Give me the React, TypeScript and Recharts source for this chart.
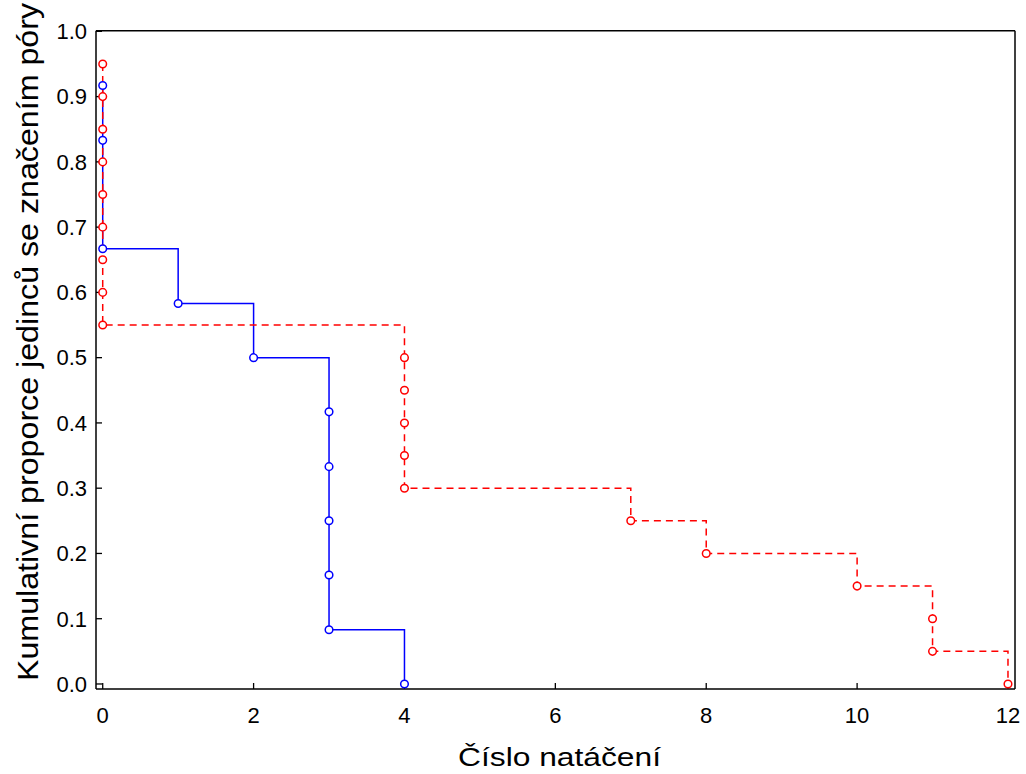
import React from 'react';
import { LineChart, Line, XAxis, YAxis } from 'recharts';

// Blue group (solid): event times and cumulative proportions
const blueTimes = [0, 0, 0, 1, 2, 3, 3, 3, 3, 3, 4];
const blueValues = [0.917, 0.833, 0.667, 0.583, 0.5, 0.417, 0.333, 0.25, 0.167, 0.083, 0.0];

// Red group (dashed)
const redTimes = [0, 0, 0, 0, 0, 0, 0, 0, 0, 4, 4, 4, 4, 4, 7, 8, 10, 11, 11, 12];
const redValues = [0.95, 0.9, 0.85, 0.8, 0.75, 0.7, 0.65, 0.6, 0.55, 0.5, 0.45, 0.4, 0.35, 0.3, 0.25, 0.2, 0.15, 0.1, 0.05, 0.0];

const xTicks = [0, 2, 4, 6, 8, 10, 12];
const yTicks = [0, 0.1, 0.2, 0.3, 0.4, 0.5, 0.6, 0.7, 0.8, 0.9, 1.0];
const topTicks = [0.333, 2.022, 3.711, 5.4, 7.089, 8.778, 10.467];
const rightTicks = [0.08, 0.168, 0.256, 0.344, 0.432, 0.52, 0.607, 0.695, 0.783, 0.871, 0.959];

const xTitle = 'Číslo natáčení';
const yTitle = 'Kumulativní proporce jedinců se značením póry';

type Pt = { x: number; y: number; dot: boolean };

function buildSteps(times: number[], values: number[]): Pt[] {
  const pts: Pt[] = [];
  times.forEach((t, i) => {
    if (i > 0 && t !== times[i - 1]) pts.push({ x: t, y: values[i - 1], dot: false });
    pts.push({ x: t, y: values[i], dot: true });
  });
  return pts;
}

const blueData = buildSteps(blueTimes, blueValues);
const redData = buildSteps(redTimes, redValues);

const FONT = '"Liberation Sans", Arial, Helvetica, sans-serif';
const X_DOMAIN: [number, number] = [-0.089, 12.093];
const Y_DOMAIN: [number, number] = [-0.0077, 1.001];

const makeDot = (color: string) => (props: any) => {
  const { cx, cy, payload, index } = props;
  if (!payload || !payload.dot) return <g key={`d-${color}-${index}`} />;
  return (
    <circle
      key={`d-${color}-${index}`}
      cx={cx}
      cy={cy}
      r={3.8}
      stroke={color}
      strokeWidth={1.5}
      fill="#ffffff"
      strokeDasharray="none"
    />
  );
};

const XTick = (props: any) => {
  const { x, y, payload } = props;
  return (
    <text
      x={x}
      y={y}
      textAnchor="middle"
      dy="0.71em"
      fontFamily={FONT}
      fontSize={22}
      fill="#000"
    >
      {String(payload.value)}
    </text>
  );
};

const YTick = (props: any) => {
  const { x, y, payload } = props;
  return (
    <text
      x={x}
      y={y}
      textAnchor="end"
      dy="0.355em"
      fontFamily={FONT}
      fontSize={22}
      fill="#000"
    >
      {Number(payload.value).toFixed(1)}
    </text>
  );
};

const XTitle = (props: any) => {
  const vb = props.viewBox || {};
  const cx = vb.x + vb.width / 2 + 4;
  return (
    <text
      x={cx}
      y={766}
      textAnchor="middle"
      fontFamily={FONT}
      fontSize={26}
      fill="#000"
      textLength={203}
      lengthAdjust="spacingAndGlyphs"
    >
      {xTitle}
    </text>
  );
};

const YTitle = () => (
  <text
    transform="translate(38,681) rotate(-90)"
    textAnchor="start"
    fontFamily={FONT}
    fontSize={29}
    fill="#000"
    textLength={678}
    lengthAdjust="spacingAndGlyphs"
  >
    {yTitle}
  </text>
);

export default function App() {
  return (
    <div style={{ position: 'absolute', left: 0, top: 0, width: 1026, height: 774, background: '#fff' }}>
      <LineChart
        width={1026}
        height={774}
        margin={{ top: 29.7, right: 10, bottom: 25, left: 36 }}
      >
        <XAxis
          xAxisId="bottom"
          type="number"
          dataKey="x"
          domain={X_DOMAIN}
          allowDataOverflow
          ticks={xTicks}
          interval={0}
          height={60}
          tickSize={-6}
          tickMargin={24}
          axisLine={{ stroke: '#000', strokeWidth: 1.5 }}
          tickLine={{ stroke: '#000', strokeWidth: 1.3 }}
          tick={<XTick />}
          label={<XTitle />}
        />
        <XAxis
          xAxisId="top"
          orientation="top"
          type="number"
          domain={X_DOMAIN}
          allowDataOverflow
          ticks={topTicks}
          interval={0}
          height={1}
          tickSize={-5}
          axisLine={{ stroke: '#000', strokeWidth: 1.5 }}
          tickLine={{ stroke: '#000', strokeWidth: 1.3 }}
          tick={false}
        />
        <YAxis
          yAxisId="left"
          type="number"
          domain={Y_DOMAIN}
          allowDataOverflow
          ticks={yTicks}
          interval={0}
          width={60}
          tickSize={-6}
          tickMargin={15}
          axisLine={{ stroke: '#000', strokeWidth: 1.5 }}
          tickLine={{ stroke: '#000', strokeWidth: 1.3 }}
          tick={<YTick />}
          label={<YTitle />}
        />
        <YAxis
          yAxisId="right"
          orientation="right"
          type="number"
          domain={Y_DOMAIN}
          allowDataOverflow
          ticks={rightTicks}
          interval={0}
          width={1}
          tickSize={-5}
          axisLine={{ stroke: '#000', strokeWidth: 1.5 }}
          tickLine={{ stroke: '#000', strokeWidth: 1.3 }}
          tick={false}
        />
        <Line
          xAxisId="bottom"
          yAxisId="left"
          data={blueData}
          dataKey="y"
          type="linear"
          stroke="#0000ff"
          strokeWidth={1.5}
          dot={makeDot('#0000ff')}
          activeDot={false}
          isAnimationActive={false}
        />
        <Line
          xAxisId="bottom"
          yAxisId="left"
          data={redData}
          dataKey="y"
          type="linear"
          stroke="#ff0000"
          strokeWidth={1.5}
          strokeDasharray="7 5"
          dot={makeDot('#ff0000')}
          activeDot={false}
          isAnimationActive={false}
        />
      </LineChart>
    </div>
  );
}
